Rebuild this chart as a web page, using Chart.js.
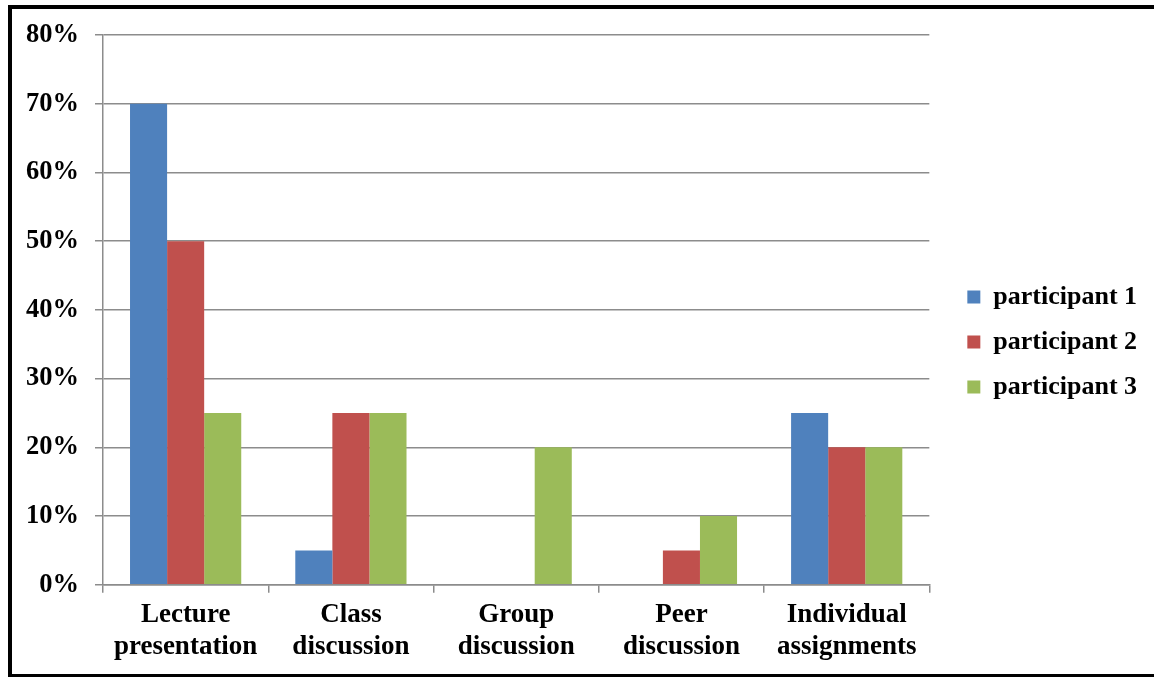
<!DOCTYPE html>
<html>
<head>
<meta charset="utf-8">
<script src="https://cdn.jsdelivr.net/npm/chart.js@4/dist/chart.umd.min.js"></script>
<style>
  html, body { margin: 0; padding: 0; background: #ffffff; }
  #wrap { width: 1154px; height: 677px; position: relative; }
</style>
</head>
<body>
<div id="wrap"><canvas id="chart" width="1154" height="677"></canvas></div>
<script>
// Teaching methods and the share each participant gave them (%)
const categories = [
  ['Lecture', 'presentation'],
  ['Class', 'discussion'],
  ['Group', 'discussion'],
  ['Peer', 'discussion'],
  ['Individual', 'assignments']
];
const seriesNames = ['participant 1', 'participant 2', 'participant 3'];
const participant1 = [70, 5, 0, 0, 25];
const participant2 = [50, 25, 0, 5, 20];
const participant3 = [25, 25, 20, 10, 20];
const yTicks = [0, 10, 20, 30, 40, 50, 60, 70, 80];

const seriesColors = ['#4F81BD', '#C0504D', '#9BBB59'];
const gridColor = '#8c8c8c';
const serif = 'Liberation Serif, Times New Roman, serif';

// Black frame around the figure
const framePlugin = {
  id: 'frame',
  afterDraw(chart) {
    const ctx = chart.ctx;
    ctx.save();
    ctx.fillStyle = '#000000';
    ctx.fillRect(8, 5, chart.width - 8, 4);
    ctx.fillRect(8, 5, 4, chart.height - 5);
    ctx.fillRect(8, chart.height - 3, chart.width - 8, 3);
    ctx.restore();
  }
};

new Chart(document.getElementById('chart'), {
  type: 'bar',
  data: {
    labels: categories,
    datasets: [participant1, participant2, participant3].map((vals, i) => ({
      label: seriesNames[i],
      data: vals,
      backgroundColor: seriesColors[i],
      borderWidth: 0,
      categoryPercentage: 0.673,
      barPercentage: 1.0
    }))
  },
  options: {
    responsive: false,
    animation: false,
    devicePixelRatio: 1,
    layout: { padding: { top: 35, left: 10, right: 18, bottom: 8 } },
    plugins: {
      tooltip: { enabled: false },
      legend: {
        position: 'right',
        fullSize: false,
        title: { display: true, text: '', padding: { top: 33, bottom: 0 }, font: { size: 26 } },
        labels: {
          boxWidth: 13,
          boxHeight: 13,
          padding: 19,
          color: '#000000',
          font: { family: serif, size: 26, weight: 'bold' }
        }
      }
    },
    scales: {
      x: {
        grid: { display: true, drawOnChartArea: false, drawTicks: true, tickLength: 8, color: gridColor, lineWidth: 1.5, offset: true },
        border: { display: true, color: gridColor, width: 1.5 },
        ticks: {
          color: '#000000',
          padding: 6.5,
          maxRotation: 0,
          autoSkip: false,
          font: { family: serif, size: 27, weight: 'bold', lineHeight: 1.17 }
        }
      },
      y: {
        min: yTicks[0],
        max: yTicks[yTicks.length - 1],
        afterBuildTicks(scale) { scale.ticks = yTicks.map(v => ({ value: v })); },
        grid: { color: gridColor, lineWidth: 1.5, tickLength: 8, drawTicks: true },
        border: { display: true, color: gridColor, width: 1.5 },
        ticks: {
          color: '#000000',
          padding: 16,
          callback: v => v + '%',
          font: { family: serif, size: 26.5, weight: 'bold' }
        }
      },
      gap: {
        // spacer between the plot and the legend
        type: 'linear',
        position: 'right',
        display: true,
        grid: { display: false },
        border: { display: false },
        ticks: { display: false },
        afterFit(scale) { scale.width = 19; }
      }
    }
  },
  plugins: [framePlugin]
});
</script>
</body>
</html>
